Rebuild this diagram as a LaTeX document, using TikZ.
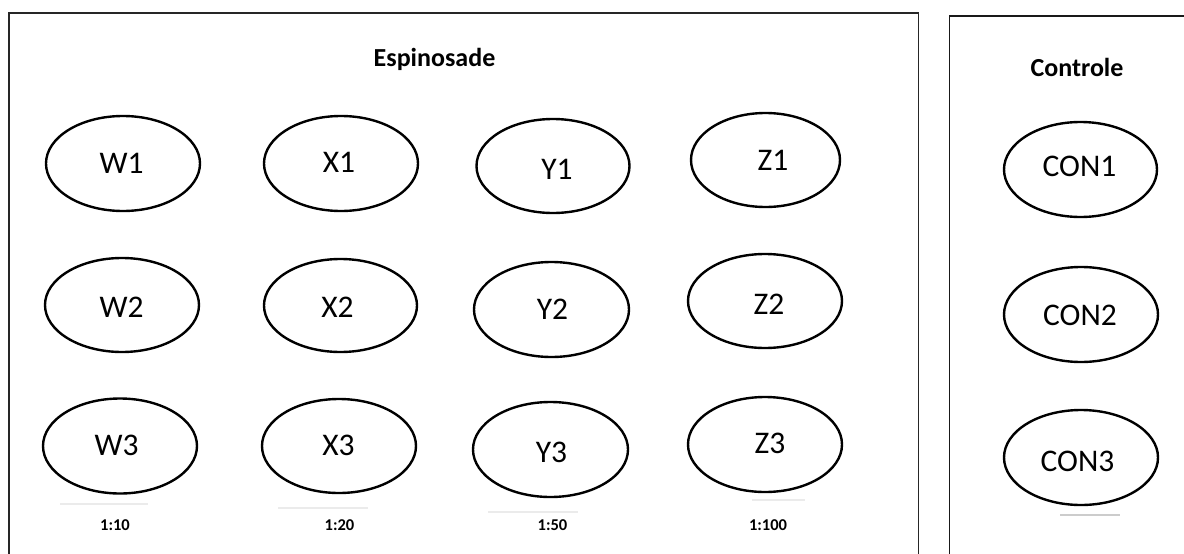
\documentclass[tikz,border=0pt]{standalone}
\usepackage{fontspec}
\setmainfont{Carlito}
\usetikzlibrary{shapes.geometric}
\begin{document}
\begin{tikzpicture}[x=1pt,y=-1pt,
  oval/.style={draw=black,line width=2.4pt,ellipse,minimum width=154pt,minimum height=95pt,inner sep=0pt},
  lbl/.style={font=\fontsize{31.5}{31.5}\selectfont,inner sep=0pt,anchor=center},
  ttl/.style={font=\bfseries\fontsize{26}{26}\selectfont,inner sep=0pt,anchor=base},
  ratio/.style={font=\bfseries\fontsize{16.5}{16.5}\selectfont,inner sep=0pt},
  frame/.style={draw=black!85,line width=1.6pt},
  faint/.style={draw=black!8,line width=1.2pt}]
\useasboundingbox (0,0) rectangle (1184,554);
\clip (0,0) rectangle (1184,554);
\fill[white] (0,0) rectangle (1184,554);
% frames
\draw[frame] (9,620) -- (9,13) -- (918.5,13) -- (918.5,620);
\draw[frame,draw=black!90,line width=1.8pt] (949.5,620) -- (949.5,16) -- (1250,16);
% titles
\node[ttl] (tesp) at (434.5,66) {Espinosade};
\node[ttl] (tcon) at (1077,76) {Controle};
% ellipses row 1
\node[oval] (ow1) at (123,163.5) {};
\node[oval] (ox1) at (341,163.5) {};
\node[oval,minimum width=153pt,minimum height=94pt] (oy1) at (553,166) {};
\node[oval,minimum width=149pt,minimum height=94pt] (oz1) at (765.5,160) {};
\node[oval,minimum width=153pt] (oc1) at (1080.5,169.5) {};
% row 2
\node[oval,minimum height=94pt] (ow2) at (122,305) {};
\node[oval,minimum width=153pt,minimum height=93pt] (ox2) at (340.5,305.5) {};
\node[oval,minimum width=155pt] (oy2) at (551.5,309.5) {};
\node[oval,minimum height=94pt] (oz2) at (765,301) {};
\node[oval] (oc2) at (1081,314.5) {};
% row 3
\node[oval] (ow3) at (120,446) {};
\node[oval,minimum height=94pt] (ox3) at (339,446) {};
\node[oval,minimum width=155pt] (oy3) at (550.5,449.5) {};
\node[oval] (oz3) at (765,444.5) {};
\node[oval,minimum height=95pt] (oc3) at (1081,457.5) {};
% ellipse texts
\node[lbl] (w1) at (121.5,163) {W1};
\node[lbl] (x1) at (339,162) {X1};
\node[lbl] (y1) at (557,169) {Y1};
\node[lbl] (z1) at (773,160) {Z1};
\node[lbl] (c1) at (1079.5,166) {CON1};
\node[lbl] (w2) at (121.5,307.5) {W2};
\node[lbl] (x2) at (337.5,307.5) {X2};
\node[lbl] (y2) at (552.5,309) {Y2};
\node[lbl] (z2) at (769,304) {Z2};
\node[lbl] (c2) at (1080,315) {CON2};
\node[lbl] (w3) at (116.5,445.5) {W3};
\node[lbl] (x3) at (338.5,445.5) {X3};
\node[lbl] (y3) at (551.5,452) {Y3};
\node[lbl] (z3) at (770,443.5) {Z3};
\node[lbl] (c3) at (1077.5,461) {CON3};
% faint underlines
\coordinate (fa1) at (60,504); \coordinate (fa2) at (148,504);
\coordinate (fb1) at (278,508); \coordinate (fb2) at (368,508);
\coordinate (fc1) at (488,512); \coordinate (fc2) at (578,512);
\coordinate (fd1) at (752,500); \coordinate (fd2) at (805,500);
\coordinate (fe1) at (1060,515); \coordinate (fe2) at (1120,515);
\draw[faint] (fa1) -- (fa2);
\draw[faint] (fb1) -- (fb2);
\draw[faint] (fc1) -- (fc2);
\draw[faint] (fd1) -- (fd2);
\draw[faint,draw=black!20] (fe1) -- (fe2);
% ratios
\node[ratio] (r1) at (115,525) {1:10};
\node[ratio] (r2) at (339.5,525) {1:20};
\node[ratio] (r3) at (552.5,525) {1:50};
\node[ratio] (r4) at (768,525) {1:100};
\end{tikzpicture}
\end{document}
